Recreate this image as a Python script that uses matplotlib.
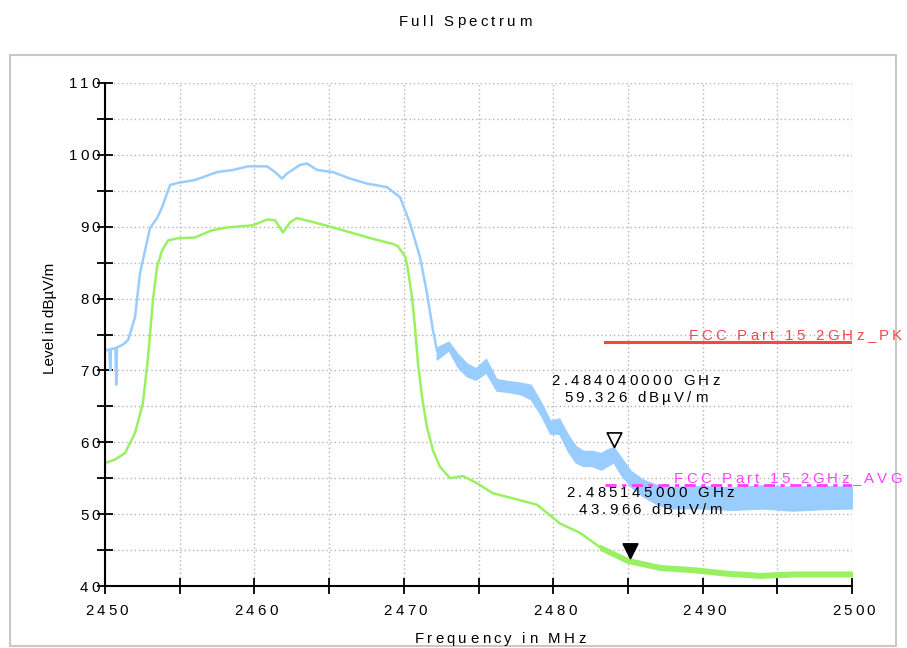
import numpy as np
import matplotlib.pyplot as plt
from matplotlib.patches import Rectangle
from matplotlib.path import Path
from matplotlib.ticker import MultipleLocator
from matplotlib.font_manager import FontProperties, findfont, get_font
from matplotlib.transforms import offset_copy

FONT = 'Liberation Sans'
plt.rcParams['font.family'] = [FONT, 'DejaVu Sans']

# peak trace (MHz, dBuV/m), smooth part
pk_freq = [2450.0, 2450.3, 2450.35, 2450.4, 2450.7, 2450.75, 2450.8, 2451.2, 2451.54,
           2452.01, 2452.34, 2452.68, 2453.01, 2453.48, 2453.82, 2454.35, 2454.89,
           2456.02, 2457.5, 2458.57, 2459.57, 2460.84, 2461.38, 2461.85, 2462.18,
           2463.05, 2463.52, 2464.19, 2465.26, 2466.4, 2467.54, 2468.88, 2469.75,
           2470.41, 2471.08, 2471.55, 2471.95, 2472.22]
pk_level = [72.8, 72.9, 70.0, 73.0, 73.1, 68.0, 73.2, 73.6, 74.2,
            77.4, 83.5, 86.7, 89.8, 91.2, 92.7, 95.8, 96.1,
            96.5, 97.6, 97.9, 98.4, 98.4, 97.6, 96.7, 97.4,
            98.6, 98.8, 97.9, 97.6, 96.7, 96.0, 95.5, 94.1,
            90.5, 85.8, 80.8, 75.6, 72.8]

# peak trace, noisy part as min/max envelope
band_freq = [2472.2, 2473.0, 2473.6, 2474.2, 2474.8, 2475.5, 2476.2, 2477.0, 2477.8,
             2478.5, 2479.2, 2479.8, 2480.4, 2481.0, 2481.5, 2482.0, 2482.6, 2483.2,
             2483.6, 2484.04, 2484.5, 2485.2, 2486.0, 2487.0, 2488.0, 2490.0, 2492.0,
             2494.0, 2496.0, 2498.0, 2500.0]
band_hi = [73.2, 74.0, 72.3, 71.0, 70.3, 71.6, 68.8, 68.5, 68.3,
           68.0, 65.5, 63.0, 63.3, 61.0, 59.5, 58.8, 58.8, 58.5,
           59.0, 59.3, 58.0, 56.0, 54.8, 54.0, 53.8, 53.9, 53.7,
           54.0, 53.8, 53.9, 53.8]
band_lo = [71.5, 72.8, 70.5, 69.2, 68.7, 69.7, 67.2, 67.0, 66.7,
           66.0, 63.7, 61.2, 61.2, 58.7, 57.2, 56.7, 56.7, 56.2,
           56.7, 57.2, 55.6, 53.8, 52.5, 51.3, 50.8, 50.8, 50.6,
           50.8, 50.5, 50.7, 50.8]

# average trace
av_freq = [2450.0, 2450.67, 2451.34, 2452.01, 2452.54, 2452.88, 2453.21, 2453.48,
           2453.82, 2454.22, 2454.89, 2456.02, 2457.16, 2458.17, 2459.91, 2460.84,
           2461.38, 2461.91, 2462.38, 2462.85, 2464.19, 2465.26, 2466.6, 2467.94,
           2469.28, 2469.6, 2470.1, 2470.28, 2470.55, 2470.75, 2470.95, 2471.22,
           2471.55, 2471.95, 2472.42, 2473.09, 2473.96, 2474.9, 2475.97, 2477.31,
           2478.92, 2479.99, 2480.45, 2481.79, 2483.13, 2484.94, 2487.15, 2489.36,
           2491.63, 2493.84, 2496.05, 2500.0]
av_level = [57.1, 57.6, 58.5, 61.3, 65.5, 71.8, 79.8, 84.4,
            86.7, 88.1, 88.4, 88.5, 89.5, 89.9, 90.2, 91.0,
            90.9, 89.2, 90.6, 91.2, 90.5, 89.9, 89.1, 88.3,
            87.6, 87.3, 85.8, 84.0, 80.2, 76.0, 71.0, 66.3,
            62.1, 58.9, 56.6, 55.0, 55.3, 54.3, 52.9, 52.2,
            51.3, 49.5, 48.7, 47.4, 45.4, 43.6, 42.6, 42.3,
            41.8, 41.5, 41.7, 41.7]

# limit lines
pk_limit = 74.0
av_limit = 54.0
limit_start = 2483.5
pk_name = 'FCC Part 15 2GHz_PK'
av_name = 'FCC Part 15 2GHz_AVG'

# markers (MHz, dBuV/m)
m1 = (2484.04, 59.326)
m2 = (2485.145, 43.966)

blue = '#99ccff'
green = '#99f060'
red = '#f04848'
magenta = '#ff40ff'

SIZE = 10.8
TRACK = 2.4  # extra letter spacing, points

fig = plt.figure(figsize=(9.07, 6.48), dpi=100)
ft = get_font(findfont(FontProperties(family=FONT)))


def spaced(x, y, s, transform, ha='left', color='black', size=SIZE, track=TRACK):
    # matplotlib has no letter spacing, so lay the glyphs out one by one
    ft.set_size(size, 72)
    adv = [ft.load_char(ord(c)).linearHoriAdvance / 65536 + track for c in s]
    total = sum(adv) - track
    pos = {'left': 0.0, 'center': -total / 2, 'right': -total}[ha]
    for c, a in zip(s, adv):
        if c != ' ':
            tr = offset_copy(transform, fig=fig, x=pos, y=0, units='points')
            fig.text(x, y, c, transform=tr, fontsize=size, color=color,
                     ha='left', va='baseline', clip_on=False)
        pos += a


def px(x, y):
    return x / 907, 1 - y / 648


fig.patches.append(Rectangle((10 / 907, 2 / 648), 886 / 907, 591 / 648,
                             transform=fig.transFigure, fill=False,
                             edgecolor='#c8c8c8', lw=1.5))
ax = fig.add_axes([105 / 907, 1 - 586 / 648, 747 / 907, 503 / 648])

ax.plot(pk_freq, pk_level, color=blue, lw=1.8)
ax.fill_between(band_freq, band_lo, band_hi, color=blue, lw=1.0, edgecolor=blue)
ax.plot(av_freq, av_level, color=green, lw=1.8)
tail = [i for i, f in enumerate(av_freq) if f >= 2483]
ax.fill_between([av_freq[i] for i in tail], [av_level[i] - 0.35 for i in tail],
                [av_level[i] + 0.3 for i in tail], color=green, lw=1.0, edgecolor=green)

ax.plot([limit_start, 2500], [pk_limit, pk_limit], color=red, lw=2.2)
ax.plot([limit_start, 2500], [av_limit, av_limit], color=magenta, lw=2.0,
        dashes=(4, 2, 1.5, 2))

tri = Path([(-1, 2), (1, 2), (0, 0), (-1, 2)],
           [Path.MOVETO, Path.LINETO, Path.LINETO, Path.CLOSEPOLY])
ax.plot(*m1, marker=tri, ms=21, mfc='white', mec='black', mew=1.2, clip_on=False)
ax.plot(*m2, marker=tri, ms=21, mfc='black', mec='black', mew=1.2, clip_on=False)

ax.set_xlim(2450, 2500)
ax.set_ylim(40, 110)
ax.xaxis.set_major_locator(MultipleLocator(10))
ax.xaxis.set_minor_locator(MultipleLocator(5))
ax.yaxis.set_major_locator(MultipleLocator(10))
ax.yaxis.set_minor_locator(MultipleLocator(5))
ax.grid(which='both', color='#b4b4b4', ls=(0, (1, 2)), lw=1.0)
ax.set_axisbelow(True)
for s in ['top', 'right']:
    ax.spines[s].set_visible(False)
for s in ['left', 'bottom']:
    ax.spines[s].set_linewidth(1.5)
ax.tick_params(which='both', direction='inout', length=11, width=1.3, color='black',
               labelbottom=False, labelleft=False)

# tick labels, letter spaced
for t in np.arange(2450, 2501, 10):
    tr = offset_copy(ax.get_xaxis_transform(), fig=fig, x=1.5, y=-29, units='dots')
    spaced(t, 0, '%d' % t, tr, ha='center')
for t in np.arange(40, 111, 10):
    tr = offset_copy(ax.get_yaxis_transform(), fig=fig, x=-5, y=-5.5, units='dots')
    spaced(0, t, '%d' % t, tr, ha='right')

# limit labels
spaced(limit_start, pk_limit, pk_name,
       offset_copy(ax.transData, fig=fig, x=83, y=2, units='dots'), color=red)
spaced(limit_start, av_limit, av_name,
       offset_copy(ax.transData, fig=fig, x=68, y=2.5, units='dots'), color=magenta)

# marker readouts
for (f, v), dx, dy in [(m1, 22, 62), (m2, 20, 60.5)]:
    tr = offset_copy(ax.transData, fig=fig, x=dx, y=dy, units='dots')
    spaced(f, v, '%.9f GHz' % (f / 1000), tr, ha='center')
    tr = offset_copy(ax.transData, fig=fig, x=dx, y=dy - 16.5, units='dots')
    spaced(f, v, '%.3f dBµV/m' % v, tr, ha='center')

spaced(*px(500, 643), 'Frequency in MHz', fig.transFigure, ha='center')
spaced(*px(465, 25.5), 'Full Spectrum', fig.transFigure, ha='center')
fig.text(*px(50, 318), 'Level in dBµV/m', ha='center', va='center',
         rotation=90, fontsize=11)

fig.savefig('out.png', dpi=100)
